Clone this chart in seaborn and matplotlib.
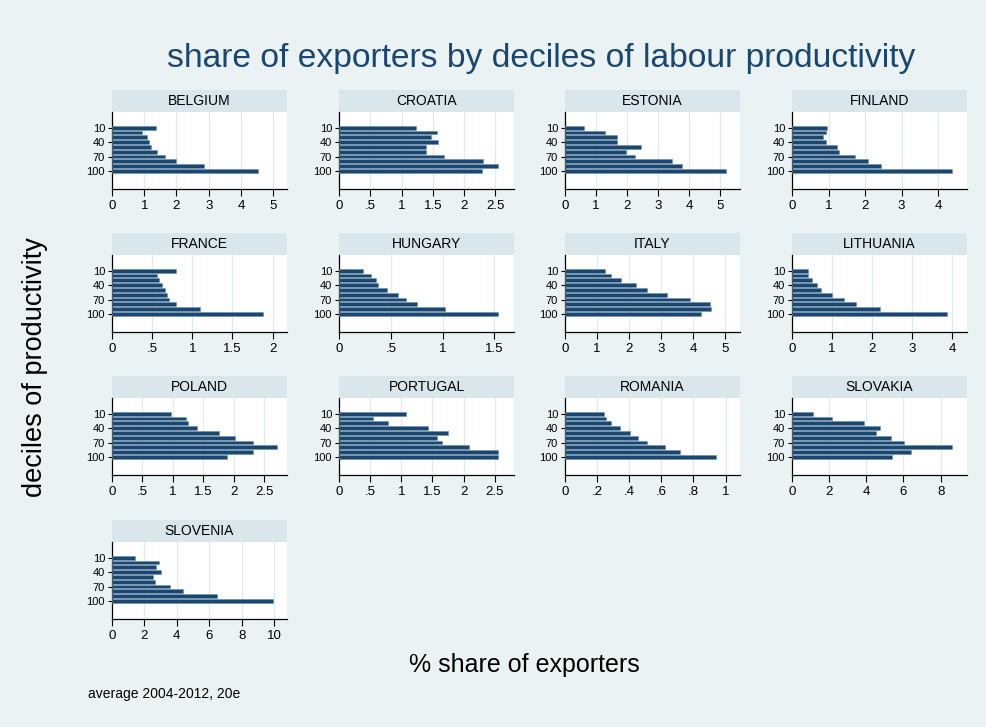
import pandas as pd
import seaborn as sns
import matplotlib.pyplot as plt
from matplotlib.patches import Rectangle

# --- Data ---
deciles = [10, 20, 30, 40, 50, 60, 70, 80, 90, 100]
countries = ['BELGIUM', 'CROATIA', 'ESTONIA', 'FINLAND',
             'FRANCE', 'HUNGARY', 'ITALY', 'LITHUANIA',
             'POLAND', 'PORTUGAL', 'ROMANIA', 'SLOVAKIA',
             'SLOVENIA']

belgium = [1.36, 0.94, 1.10, 1.16, 1.22, 1.39, 1.64, 2.00, 2.87, 4.54]
croatia = [1.23, 1.57, 1.47, 1.58, 1.39, 1.39, 1.68, 2.30, 2.55, 2.28]
estonia = [0.61, 1.30, 1.67, 1.67, 2.44, 1.97, 2.24, 3.44, 3.76, 5.17]
finland = [0.97, 0.92, 0.86, 0.92, 1.22, 1.30, 1.73, 2.08, 2.44, 4.38]
france = [0.80, 0.56, 0.59, 0.62, 0.66, 0.68, 0.71, 0.80, 1.10, 1.88]
hungary = [0.235, 0.31, 0.36, 0.38, 0.46, 0.57, 0.645, 0.755, 1.02, 1.54]
italy = [1.26, 1.44, 1.75, 2.23, 2.57, 3.19, 3.90, 4.53, 4.55, 4.25]
lithuania = [0.41, 0.41, 0.49, 0.63, 0.73, 1.00, 1.29, 1.61, 2.21, 3.88]
poland = [0.97, 1.22, 1.25, 1.39, 1.75, 2.02, 2.31, 2.70, 2.32, 1.89]
portugal = [1.07, 0.54, 0.78, 1.43, 1.75, 1.58, 1.66, 2.09, 2.56, 2.56]
romania = [0.242, 0.254, 0.288, 0.344, 0.404, 0.452, 0.512, 0.621, 0.717, 0.94]
slovakia = [1.13, 2.15, 3.87, 4.74, 4.52, 5.35, 6.05, 8.61, 6.42, 5.36]
slovenia = [1.4, 2.9, 2.7, 3.0, 2.5, 2.65, 3.6, 4.4, 6.5, 9.95]

values = [belgium, croatia, estonia, finland, france, hungary, italy,
          lithuania, poland, portugal, romania, slovakia, slovenia]

# x axis ticks and upper limit per panel
xticks = [[0, 1, 2, 3, 4, 5], [0, .5, 1, 1.5, 2, 2.5], [0, 1, 2, 3, 4, 5],
          [0, 1, 2, 3, 4], [0, .5, 1, 1.5, 2], [0, .5, 1, 1.5],
          [0, 1, 2, 3, 4, 5], [0, 1, 2, 3, 4], [0, .5, 1, 1.5, 2, 2.5],
          [0, .5, 1, 1.5, 2, 2.5], [0, .2, .4, .6, .8, 1], [0, 2, 4, 6, 8],
          [0, 2, 4, 6, 8, 10]]
xmax = [5.43, 2.8, 5.63, 4.79, 2.18, 1.69, 5.47, 4.375, 2.87, 2.81, 1.09, 9.42, 10.8]

ytick_vals = [10, 40, 70, 100]

df = pd.DataFrame({
    'country': [c for c in countries for _ in deciles],
    'decile': deciles * len(countries),
    'share': [v for vals in values for v in vals],
})

# --- Style ---
NAVY = '#1a476f'
BG = '#eaf2f3'
BOX = '#d9e6eb'
GRID = '#e1eaed'

sns.set_style('ticks')
plt.rcParams['font.family'] = ['Liberation Sans', 'DejaVu Sans']
plt.rcParams['text.color'] = 'black'
plt.rcParams['xtick.color'] = 'black'
plt.rcParams['ytick.color'] = 'black'
plt.rcParams['xtick.labelcolor'] = 'black'
plt.rcParams['ytick.labelcolor'] = 'black'

W, H = 987, 727
PW, PH = 175, 77          # plot region size in px
BOXH = 22
col_left = [112, 339, 565, 792]
row_axis = [189, 332, 475, 619]


def fmt(v):
    s = f"{v:g}"
    if s.startswith('0.'):
        s = s[1:]
    return s


fig = plt.figure(figsize=(W / 100, H / 100), dpi=100)
fig.patch.set_facecolor(BG)

for i, c in enumerate(countries):
    r, k = divmod(i, 4)
    ax = fig.add_axes([col_left[k] / W, 1 - row_axis[r] / H, PW / W, PH / H])
    ax.set_facecolor('white')
    sub = df[df['country'] == c]
    sns.barplot(data=sub, x='share', y='decile', orient='h', native_scale=True,
                color=NAVY, saturation=1, width=0.8, errorbar=None,
                edgecolor='#6f8fab', linewidth=0.4, ax=ax, zorder=3)
    ax.set_xlim(0, xmax[i])
    ax.set_ylim(137.5, -22.7)
    ax.set_xticks(xticks[i])
    ax.set_xticklabels([fmt(t) for t in xticks[i]], fontsize=9.5)
    ax.set_yticks(ytick_vals)
    ax.set_yticklabels([str(t) for t in ytick_vals], fontsize=8)
    ax.tick_params(axis='x', length=5, width=0.8, pad=3)
    ax.tick_params(axis='y', length=3, width=0.8, pad=2)
    ax.xaxis.grid(True, color=GRID, linewidth=0.9, zorder=0)
    ax.set_axisbelow(True)
    ax.set_xlabel('')
    ax.set_ylabel('')
    for s in ['top', 'right']:
        ax.spines[s].set_visible(False)
    for s in ['left', 'bottom']:
        ax.spines[s].set_linewidth(0.9)
        ax.spines[s].set_color('black')
    # panel title strip
    ax.add_patch(Rectangle((0, 1), 1, BOXH / PH, transform=ax.transAxes,
                           facecolor=BOX, edgecolor='none', clip_on=False))
    ax.text(0.5, 1 + BOXH / PH / 2, c, transform=ax.transAxes, ha='center',
            va='center', fontsize=10, color='black')

fig.text(541 / W, 1 - 58 / H, 'share of exporters by deciles of labour productivity',
         ha='center', va='center', fontsize=24.2, color=NAVY)
fig.text(35 / W, 1 - 367 / H, 'deciles of productivity', rotation=90,
         ha='center', va='center', fontsize=19.5, color='black')
fig.text(524 / W, 1 - 665 / H, '% share of exporters', ha='center',
         va='center', fontsize=18, color='black')
fig.text(88 / W, 1 - 694 / H, 'average 2004-2012, 20e', ha='left',
         va='center', fontsize=10, color='black')

fig.savefig('out.png', dpi=100, facecolor=BG)
